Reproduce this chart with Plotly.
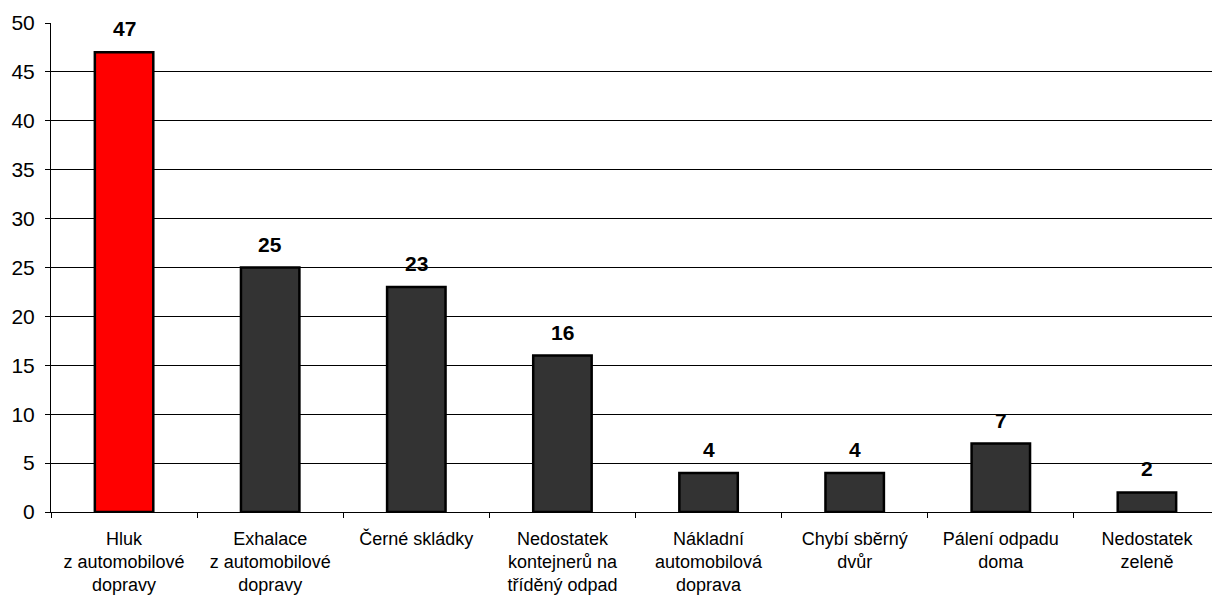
import plotly.graph_objects as go

# kategorie a hodnoty
categories = [
    "Hluk<br>z automobilové<br>dopravy",
    "Exhalace<br>z automobilové<br>dopravy",
    "Černé skládky",
    "Nedostatek<br>kontejnerů na<br>tříděný odpad",
    "Nákladní<br>automobilová<br>doprava",
    "Chybí sběrný<br>dvůr",
    "Pálení odpadu<br>doma",
    "Nedostatek<br>zeleně",
]
values = [47, 25, 23, 16, 4, 4, 7, 2]
colors = ["#FF0000"] + ["#333333"] * 7

y_ticks = list(range(0, 51, 5))

fig = go.Figure()
fig.add_trace(go.Bar(
    x=categories,
    y=values,
    marker=dict(color=colors, line=dict(color="#000000", width=2.5)),
    width=0.4,
))

# popisky hodnot nad sloupci
for c, v in zip(categories, values):
    fig.add_annotation(
        x=c, y=v, text="<b>%d</b>" % v, showarrow=False,
        yanchor="bottom", yshift=10,
        font=dict(family="Liberation Sans, Arial", size=21, color="#000000"),
    )

# stranka ma okraj 8 px, proto mensi rozmer a okraje
fig.update_layout(
    width=1212, height=591,
    margin=dict(l=43, r=0, t=15, b=87),
    paper_bgcolor="white", plot_bgcolor="white",
    showlegend=False,
    font=dict(family="Liberation Sans, Arial", color="#000000"),
    bargap=0.6,
)
fig.update_yaxes(
    range=[0, 50], tickvals=y_ticks, automargin=False,
    showgrid=True, gridcolor="#000000", gridwidth=1,
    showline=True, linecolor="#000000", linewidth=1,
    ticks="outside", ticklen=5, tickcolor="#000000",
    tickfont=dict(size=21), zeroline=False,
    ticklabelstandoff=6,
)
fig.update_xaxes(
    automargin=False,
    showline=True, linecolor="#000000", linewidth=1,
    ticks="outside", ticklen=5, tickcolor="#000000",
    tickson="boundaries", tickfont=dict(size=18),
    ticklabelstandoff=10,
    tickangle=0,
)

fig.write_html("out.html")
